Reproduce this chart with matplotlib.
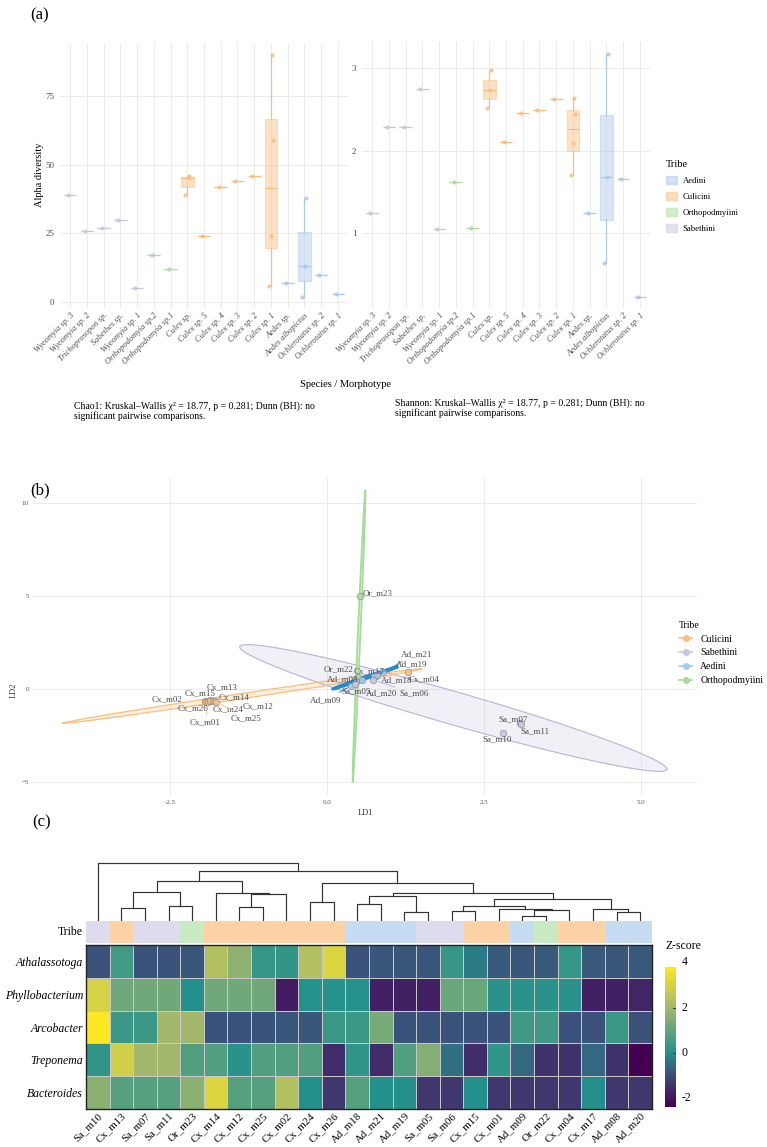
import numpy as np
import matplotlib
matplotlib.use('Agg')
import matplotlib.pyplot as plt
from matplotlib.patches import Patch, Polygon, Rectangle
from matplotlib.lines import Line2D
from matplotlib.colors import LinearSegmentedColormap

plt.rcParams['font.family'] = ['Liberation Serif', 'DejaVu Serif']

W, H = 767, 1147

# ---------------- (a) alpha diversity ----------------
species = ['Wyeomyia sp. 3', 'Wyeomyia sp. 2', 'Trichoprosopon sp.', 'Sabethes sp.',
           'Wyeomyia sp. 1', 'Orthopodomyia sp.2', 'Orthopodomyia sp.1', 'Culex sp.',
           'Culex sp. 5', 'Culex sp. 4', 'Culex sp. 3', 'Culex sp. 2', 'Culex sp. 1',
           'Aedes sp.', 'Aedes albopictus', 'Ochlerotatus sp. 2', 'Ochlerotatus sp. 1']
species_tribe = ['Sabethini'] * 5 + ['Orthopodmyiini'] * 2 + ['Culicini'] * 6 + ['Aedini'] * 4
chao1 = [[39], [26], [27], [30], [5], [17], [12], [39, 45, 46], [24], [42], [44], [46],
         [6, 24, 59, 90], [7], [2, 13, 38], [10], [3]]
shannon = [[1.24], [2.29], [2.29], [2.74], [1.05], [1.62], [1.06], [2.51, 2.73, 2.97],
           [2.11], [2.46], [2.49], [2.62], [1.70, 2.09, 2.44, 2.64], [1.25],
           [0.64, 1.68, 3.17], [1.66], [0.23]]
chao1_note = ("Chao1: Kruskal\u2013Wallis \u03c7\u00b2 = 18.77, p = 0.281; Dunn (BH): no\n"
              "significant pairwise comparisons.")
shannon_note = ("Shannon: Kruskal\u2013Wallis \u03c7\u00b2 = 18.77, p = 0.281; Dunn (BH): no\n"
                "significant pairwise comparisons.")

# ---------------- (b) LDA ----------------
lda_samples = ['Cx_m02', 'Cx_m26', 'Cx_m15', 'Cx_m01', 'Cx_m13', 'Cx_m24', 'Cx_m14', 'Cx_m12',
               'Cx_m25', 'Cx_m04', 'Cx_m17', 'Or_m22', 'Or_m23', 'Ad_m08', 'Ad_m09', 'Ad_m20',
               'Ad_m18', 'Ad_m21', 'Ad_m19', 'Sa_m05', 'Sa_m06', 'Sa_m07', 'Sa_m11', 'Sa_m10']
lda_tribe = ['Culicini'] * 11 + ['Orthopodmyiini'] * 2 + ['Aedini'] * 6 + ['Sabethini'] * 5
ld1 = [-1.94, -1.92, -1.90, -1.89, -1.87, -1.86, -1.82, -1.78, -1.76, 1.29, 0.78, 0.49, 0.53,
       0.46, 0.38, 0.56, 0.75, 0.80, 0.89, 0.45, 0.73, 3.07, 3.09, 2.80]
ld2 = [-0.66, -0.68, -0.63, -0.70, -0.60, -0.67, -0.62, -0.66, -0.69, 0.91, 0.70, 0.65, 5.00,
       0.38, 0.16, 0.48, 0.70, 0.75, 0.91, 0.27, 0.48, -1.83, -1.88, -2.37]
# 95% ellipses: centre, half major axis vector, half minor axis vector
ellipse_tribe = ['Sabethini', 'Culicini', 'Orthopodmyiini', 'Aedini']
ellipse_center = [(2.01, -1.02), (-1.35, -0.38), (0.51, 2.83), (0.60, 0.59)]
ellipse_major = [(3.40, -3.28), (2.86, 1.46), (0.10, 7.83), (0.51, 0.59)]
ellipse_minor = [(0.0, 0.92), (0.0, 0.14), (0.02, 0.0), (0.0, 0.05)]

# ---------------- (c) heatmap ----------------
hm_samples = ['Sa_m10', 'Cx_m13', 'Sa_m07', 'Sa_m11', 'Or_m23', 'Cx_m14', 'Cx_m12', 'Cx_m25',
              'Cx_m02', 'Cx_m24', 'Cx_m26', 'Ad_m18', 'Ad_m21', 'Ad_m19', 'Sa_m05', 'Sa_m06',
              'Cx_m15', 'Cx_m01', 'Ad_m09', 'Or_m22', 'Cx_m04', 'Cx_m17', 'Ad_m08', 'Ad_m20']
hm_taxa = ['Athalassotoga', 'Phyllobacterium', 'Arcobacter', 'Treponema', 'Bacteroides']
z_athalassotoga = [-0.9, 0.5, -0.9, -0.9, -0.85, 2.3, 1.7, 0.3, 0.25, 2.3, 3.1, -0.9,
                   -0.85, -0.85, -0.85, 0.3, -0.3, -0.8, -0.85, -0.8, 0.3, -0.8, -0.85, -0.8]
z_phyllobacterium = [3.0, 1.2, 1.2, 1.2, 0.0, 1.2, 1.2, 1.2, -1.9, 0.05, 0.05, 0.05,
                     -1.8, -1.8, -1.8, 1.1, 1.1, 0.1, 0.1, 0.1, 0.1, -1.8, -1.8, -1.7]
z_arcobacter = [3.8, 0.4, 0.4, 2.0, 2.0, -0.9, -0.9, -0.9, -0.85, -0.85, 0.4, 0.4,
                1.3, -0.9, -0.9, -0.9, -0.9, -0.9, 0.45, 0.45, -0.9, -0.9, 0.4, -0.9]
z_treponema = [0.2, 2.9, 2.0, 2.0, 0.7, 0.7, 0.1, 0.7, 0.7, 0.7, -1.6, 0.2,
               -1.6, 0.7, 1.5, -0.5, -1.6, 0.2, -0.6, -1.5, -1.5, -0.6, -1.5, -2.4]
z_bacteroides = [1.6, 0.8, 0.8, 0.8, 1.6, 3.1, 0.8, 0.8, 2.3, 0.0, -1.4, 0.8,
                 0.0, 0.0, -1.4, -1.4, 0.0, -1.4, -1.4, -1.4, -1.4, 0.0, -1.4, -1.4]
hm_tribe = ['Sabethini', 'Culicini', 'Sabethini', 'Sabethini', 'Orthopodmyiini'] + ['Culicini'] * 6 + \
           ['Aedini'] * 3 + ['Sabethini'] * 2 + ['Culicini'] * 2 + ['Aedini', 'Orthopodmyiini'] + \
           ['Culicini'] * 2 + ['Aedini'] * 2
# column dendrogram: (left, right, height); leaves 0..23, new nodes numbered from 24
merges = [(1, 2, 37), (3, 4, 43), (24, 25, 85), (6, 7, 40), (27, 8, 78), (5, 28, 82),
          (26, 29, 117), (9, 10, 55), (11, 12, 50), (13, 14, 27), (32, 33, 73), (15, 16, 28),
          (18, 19, 15), (36, 20, 32), (17, 37, 35), (35, 38, 45), (22, 23, 27), (21, 40, 34),
          (39, 41, 65), (34, 42, 82), (31, 43, 112), (30, 44, 145), (0, 45, 170)]

tribe_colors = {'Aedini': '#a9c9ea', 'Culicini': '#fbbd7c',
                'Orthopodmyiini': '#a9dc9c', 'Sabethini': '#c8c5e3'}
bar_colors = {'Aedini': '#c6dcf2', 'Culicini': '#fdd3a6',
              'Orthopodmyiini': '#c8ebc2', 'Sabethini': '#dddbee'}

fig = plt.figure(figsize=(W / 100, H / 100), dpi=100)


def add_px(x0, y0, x1, y1):
    return fig.add_axes([x0 / W, 1 - y1 / H, (x1 - x0) / W, (y1 - y0) / H])


def ftext(x, y, s, **kw):
    return fig.text(x / W, 1 - y / H, s, **kw)


def style_minimal(ax):
    for sp in ax.spines.values():
        sp.set_visible(False)
    ax.tick_params(length=0, colors='#4d4d4d')
    ax.grid(True, color='#ebebeb', lw=0.7)
    ax.set_axisbelow(True)


def alpha_panel(ax, values, ylim, yticks):
    pos = np.arange(len(species))
    bp = ax.boxplot(values, positions=pos, widths=0.75, patch_artist=True,
                    showfliers=False, showcaps=False, whis=1.5, manage_ticks=False)
    for i, t in enumerate(species_tribe):
        c = tribe_colors[t]
        bp['boxes'][i].set(facecolor=c, alpha=0.45, edgecolor=c, lw=0.8)
        bp['medians'][i].set(color=c, lw=0.9)
        for w in bp['whiskers'][2 * i:2 * i + 2]:
            w.set(color=c, lw=0.9)
        jit = np.array([-0.12, 0.02, 0.1, 0.05])[:len(values[i])]
        ax.scatter(pos[i] + jit, values[i], s=9, color=c, alpha=0.85, lw=0, zorder=3)
    ax.set_xlim(-0.6, len(species) - 0.4)
    ax.set_ylim(*ylim)
    ax.set_yticks(yticks)
    ax.set_xticks(pos)
    ax.set_xticklabels(species, rotation=45, ha='right', rotation_mode='anchor',
                       fontsize=6, style='italic', color='#4d4d4d')
    ax.tick_params(axis='y', labelsize=6.5, pad=4)
    ax.tick_params(axis='x', pad=2)
    style_minimal(ax)


ax1 = add_px(60, 42.6, 348, 308.6)
alpha_panel(ax1, chao1, (-2.4, 94.4), [0, 25, 50, 75])
ax2 = add_px(362, 42.3, 650, 308.8)
alpha_panel(ax2, shannon, (0.087, 3.31), [1, 2, 3])

ftext(30, 15, '(a)', fontsize=12, va='center')
ftext(40, 175, 'Alpha diversity', fontsize=7.5, rotation=90, ha='center', va='center')
ftext(345, 384, 'Species / Morphotype', fontsize=7.5, ha='center', va='center')
ftext(74, 401, chao1_note, fontsize=7, va='top', linespacing=1.15)
ftext(395, 398, shannon_note, fontsize=7, va='top', linespacing=1.15)

tribes_a = ['Aedini', 'Culicini', 'Orthopodmyiini', 'Sabethini']
handles_a = [Patch(facecolor=tribe_colors[t], alpha=0.5, edgecolor=tribe_colors[t]) for t in tribes_a]
fig.legend(handles_a, tribes_a, loc='upper left', bbox_to_anchor=(658 / W, 1 - 152 / H),
           frameon=False, fontsize=6.2, title='Tribe', title_fontsize=7.5,
           handlelength=1.25, handleheight=1.0, labelspacing=0.85, handletextpad=0.7,
           alignment='left')

# ---------------- (b) ----------------
axb = add_px(33, 478, 697, 796)
style_minimal(axb)
axb.set_xlim(-4.68, 5.89)
axb.set_ylim(-5.75, 11.34)
axb.set_xticks([-2.5, 0, 2.5, 5.0])
axb.set_xticklabels(['-2.5', '0.0', '2.5', '5.0'])
axb.set_yticks([-5, 0, 5, 10])
axb.tick_params(labelsize=5, pad=3, colors='#555555')

ell_edge = {'Sabethini': '#b7b4d6', 'Culicini': '#fbbd7c',
            'Orthopodmyiini': '#a5dc98', 'Aedini': '#1f8dd6'}
ell_lw = {'Sabethini': 0.8, 'Culicini': 0.9, 'Orthopodmyiini': 1.3, 'Aedini': 2.2}
tt = np.linspace(0, 2 * np.pi, 200)
for t, c, a, b in zip(ellipse_tribe, ellipse_center, ellipse_major, ellipse_minor):
    xs = c[0] + a[0] * np.cos(tt) + b[0] * np.sin(tt)
    ys = c[1] + a[1] * np.cos(tt) + b[1] * np.sin(tt)
    axb.add_patch(Polygon(np.column_stack([xs, ys]), closed=True,
                          facecolor=tribe_colors[t], alpha=0.25, lw=0))
    axb.plot(xs, ys, color=ell_edge[t], lw=ell_lw[t])

for s, t, x, y in zip(lda_samples, lda_tribe, ld1, ld2):
    axb.scatter(x, y, s=22, facecolor=tribe_colors[t], edgecolor='#8a8a8a', lw=0.5,
                alpha=0.9, zorder=4)

# label offsets (pixels) for repelled labels
label_off = {'Cx_m02': (-38, 2), 'Cx_m26': (-13, -7), 'Cx_m15': (-8, 7), 'Cx_m01': (-3, -20),
             'Cx_m13': (13, 13), 'Cx_m24': (18, -8), 'Cx_m14': (21, 3), 'Cx_m12': (43, -5),
             'Cx_m25': (30, -16), 'Cx_m04': (16, -7), 'Cx_m17': (-7, 5), 'Or_m22': (-19, 8),
             'Or_m23': (17, 3), 'Ad_m08': (-13, 3), 'Ad_m09': (-25, -14), 'Ad_m20': (19, -13),
             'Ad_m18': (23, -4), 'Ad_m21': (39, 21), 'Ad_m19': (29, 8), 'Sa_m05': (1, -7),
             'Sa_m06': (41, -13), 'Sa_m07': (-7, 4), 'Sa_m11': (14, -7), 'Sa_m10': (-6, -6)}
seg = {'Cx_m01', 'Cx_m25', 'Ad_m09', 'Ad_m21', 'Sa_m06'}
for s, t, x, y in zip(lda_samples, lda_tribe, ld1, ld2):
    ap = None
    if s in seg:
        segc = '#1f8dd6' if t == 'Aedini' else ell_edge[t]
        ap = dict(arrowstyle='-', color=segc, lw=0.6, shrinkA=1, shrinkB=2)
    axb.annotate(s, (x, y), xytext=label_off[s], textcoords='offset pixels',
                 ha='center', va='center', fontsize=6.5, color='#4d4d4d',
                 arrowprops=ap, zorder=5)

ftext(30, 490, '(b)', fontsize=12, va='center')
ftext(365, 813, 'LD1', fontsize=6, ha='center', va='center', color='#333333')
ftext(14, 690, 'LD2', fontsize=6, rotation=90, ha='center', va='center', color='#333333')

tribes_b = ['Culicini', 'Sabethini', 'Aedini', 'Orthopodmyiini']
handles_b = [Line2D([0], [0], color=tribe_colors[t], lw=1.2, marker='o', markersize=4,
                    markerfacecolor=tribe_colors[t], markeredgecolor=tribe_colors[t])
             for t in tribes_b]
fig.legend(handles_b, tribes_b, loc='upper left', bbox_to_anchor=(670 / W, 1 - 612 / H),
           frameon=False, fontsize=7, title='Tribe', title_fontsize=7,
           handlelength=1.4, labelspacing=0.5, alignment='left')

# ---------------- (c) ----------------
ftext(32, 822, '(c)', fontsize=12, va='center')
zmat = np.array([z_athalassotoga, z_phyllobacterium, z_arcobacter, z_treponema, z_bacteroides])
vmin, vmax = -2.4, 3.8
stops = [-2.4, -1.0, 0.0, 2.0, 3.8]
stop_cols = ['#440154', '#3d4d78', '#23908c', '#a3b86c', '#fde725']
cmap = LinearSegmentedColormap.from_list(
    'zs', [((v - vmin) / (vmax - vmin), c) for v, c in zip(stops, stop_cols)])

ncol = len(hm_samples)
axh = add_px(86, 945, 652, 1109)
axh.pcolormesh(np.arange(ncol + 1), np.arange(len(hm_taxa) + 1), zmat, cmap=cmap,
               vmin=vmin, vmax=vmax, edgecolors='#c8c8c8', linewidth=0.5)
axh.set_xlim(0, ncol)
axh.set_ylim(len(hm_taxa), 0)
axh.set_yticks(np.arange(len(hm_taxa)) + 0.5)
axh.set_yticklabels(hm_taxa, style='italic', fontsize=8.5)
axh.set_xticks(np.arange(ncol) + 0.5)
axh.set_xticklabels(hm_samples, rotation=45, ha='right', rotation_mode='anchor', fontsize=7.8)
axh.tick_params(length=0, pad=1.5)
axh.tick_params(axis='y', pad=2)
for sp in axh.spines.values():
    sp.set_color('#222222')
    sp.set_linewidth(1.0)

axt = add_px(86, 921, 652, 943)
for i, t in enumerate(hm_tribe):
    axt.add_patch(Rectangle((i, 0), 1, 1, facecolor=bar_colors[t], lw=0))
axt.set_xlim(0, ncol)
axt.set_ylim(0, 1)
axt.set_xticks([])
axt.set_yticks([])
for sp in axt.spines.values():
    sp.set_visible(False)
ftext(83, 932, 'Tribe', fontsize=8.5, ha='right', va='center')

axd = add_px(86, 862, 652, 921)
xpos = {i: i + 0.5 for i in range(ncol)}
hgt = {i: 0.0 for i in range(ncol)}
for k, (l, r, h) in enumerate(merges):
    node = ncol + k
    axd.plot([xpos[l], xpos[l], xpos[r], xpos[r]], [hgt[l], h, h, hgt[r]],
             color='#333333', lw=0.85)
    xpos[node] = (xpos[l] + xpos[r]) / 2
    hgt[node] = h
axd.set_xlim(0, ncol)
axd.set_ylim(0, 172)
axd.axis('off')

axc = add_px(665, 967, 676, 1107)
grad = np.linspace(vmin, vmax, 256).reshape(-1, 1)
axc.imshow(grad, aspect='auto', cmap=cmap, origin='lower', extent=[0, 1, vmin, vmax])
axc.set_xlim(0, 1)
axc.set_ylim(vmin, vmax)
axc.set_xticks([])
axc.set_yticks([])
for sp in axc.spines.values():
    sp.set_visible(False)
for v in [-2, 0, 2, 4]:
    axc.text(1.5, v, str(v), transform=axc.transData, fontsize=8.5, va='center',
             ha='left', clip_on=False)
    if v < vmax:
        axc.plot([0.75, 1.0], [v, v], color='#222222', lw=0.6)
ftext(665, 946, 'Z-score', fontsize=8.5, ha='left', va='center')

fig.savefig('out.png', dpi=100)
